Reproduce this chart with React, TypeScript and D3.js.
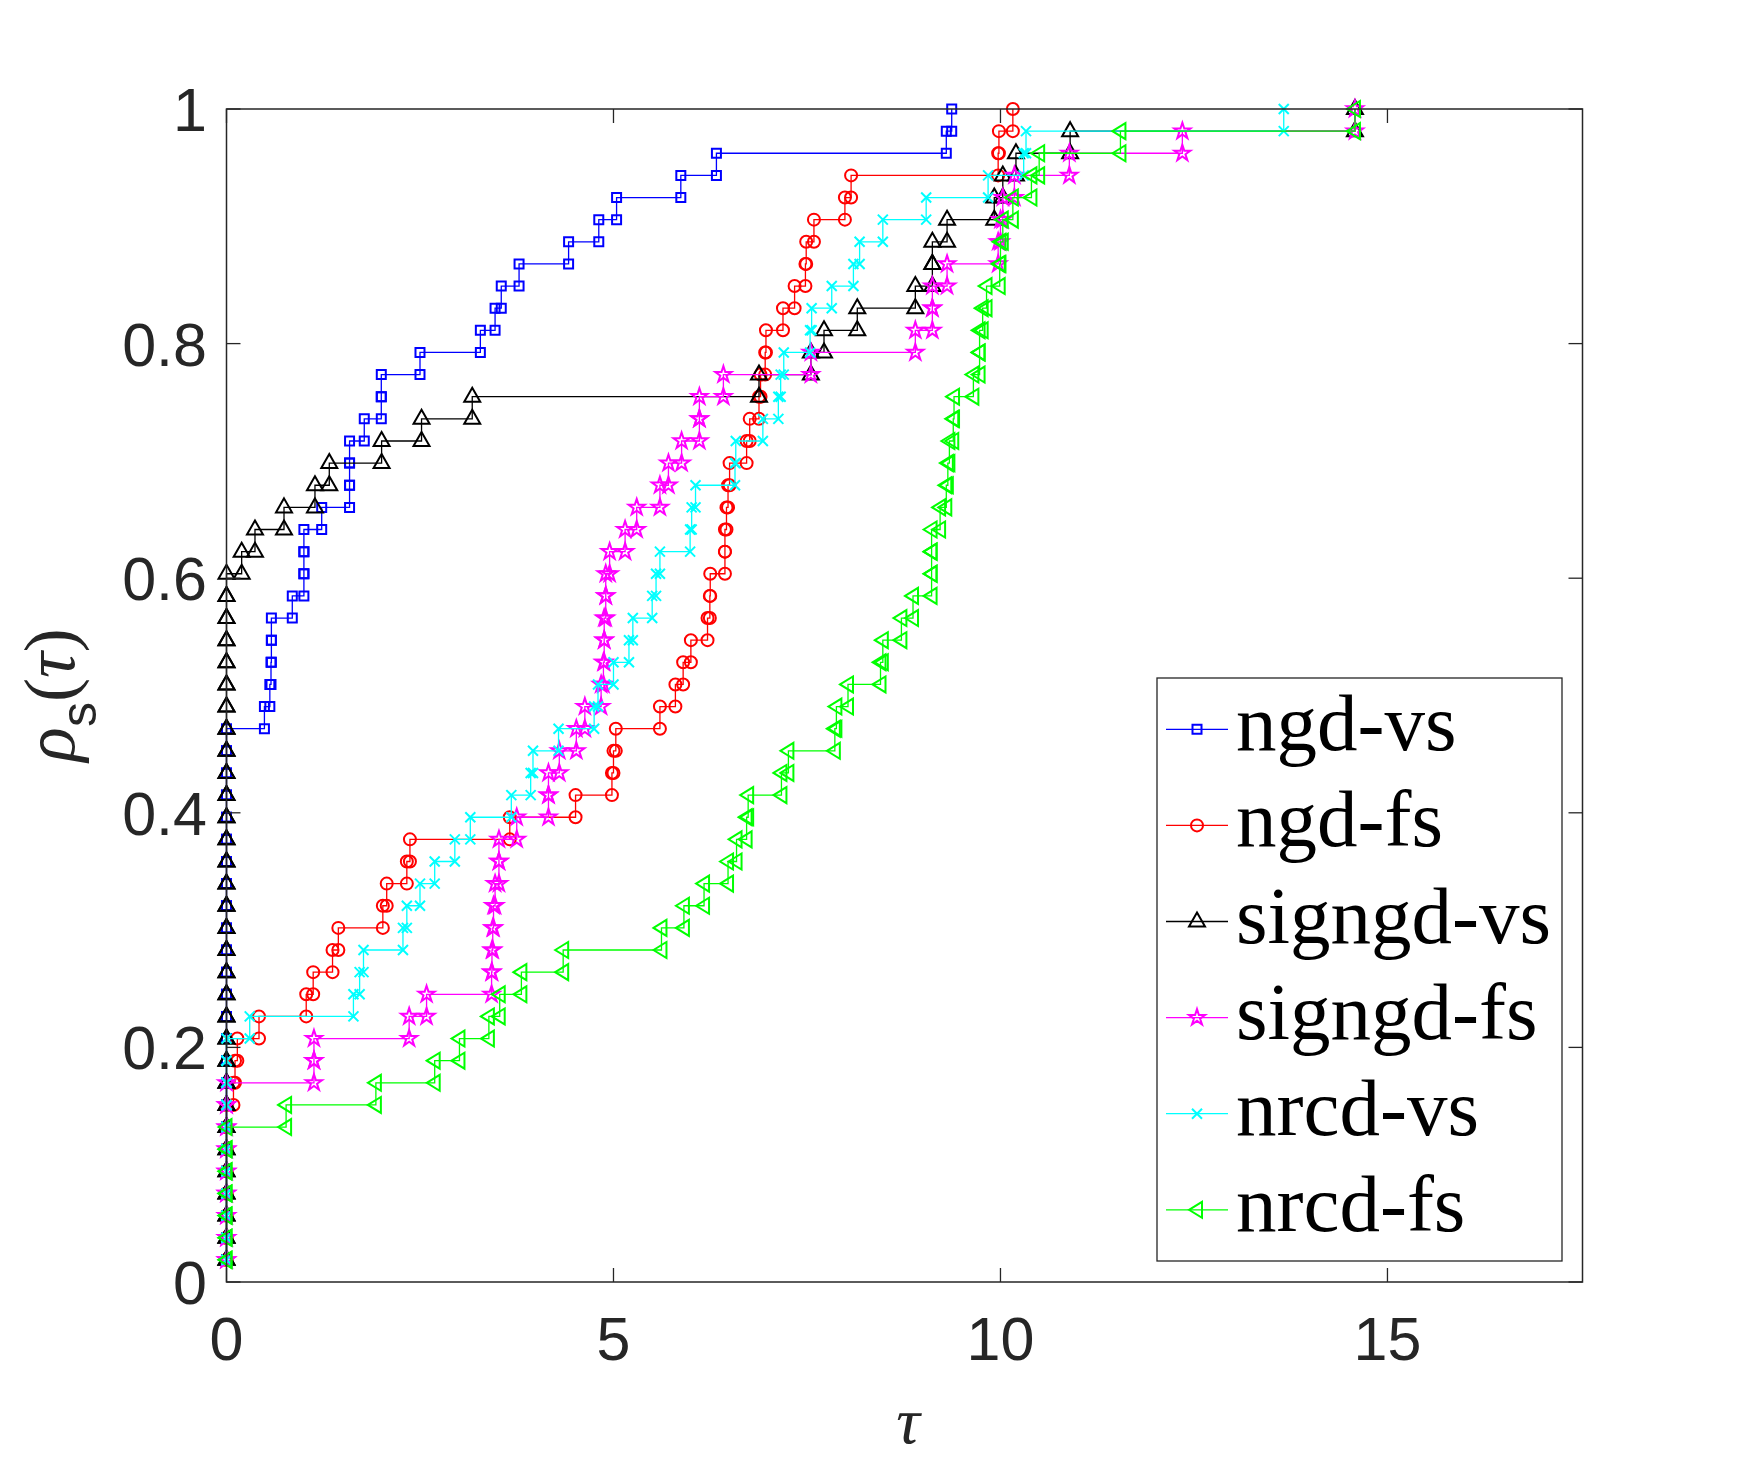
import * as d3 from "d3";

// performance profile: sorted log2 ratios per solver, rho = i / nProblems
const nProblems = 53;
const xMax = 17.52;

const xTicks = [0, 5, 10, 15];
const yTicks = [0, 0.2, 0.4, 0.6, 0.8, 1];
const yTickLabels = ["0", "0.2", "0.4", "0.6", "0.8", "1"];

const seriesNames = ["ngd-vs", "ngd-fs", "signgd-vs", "signgd-fs", "nrcd-vs", "nrcd-fs"];
const seriesColors = ["#0000ff", "#ff0000", "#000000", "#ff00ff", "#00ffff", "#00ff00"];
const seriesMarkers = ["square", "circle", "triUp", "star", "cross", "triLeft"];

const ngdVs = [
  0, 0, 0, 0, 0, 0, 0, 0, 0, 0, 0, 0, 0, 0, 0, 0, 0, 0, 0, 0, 0, 0, 0, 0, 0,
  0.49, 0.56, 0.575, 0.58, 0.58, 0.85, 1.0, 1.0, 1.0, 1.23, 1.59, 1.59, 1.59, 1.78, 2.0,
  2.0, 2.5, 3.28, 3.47, 3.55, 3.78, 4.42, 4.81, 5.04, 5.87, 6.33, 9.3, 9.37,
];

const ngdFs = [
  0, 0, 0, 0, 0, 0, 0, 0,
  0.09, 0.11, 0.14, 0.42, 1.03, 1.12, 1.37, 1.445, 2.02, 2.07, 2.33, 2.37,
  3.66, 4.51, 4.98, 5.0, 5.03, 5.6, 5.8, 5.9, 6.0,
  6.215, 6.245, 6.25, 6.44, 6.44, 6.46, 6.48, 6.5, 6.72, 6.76, 6.88, 6.9, 6.96, 6.97,
  7.19, 7.34, 7.48, 7.49, 7.59, 7.99, 8.07, 9.97, 9.98, 10.16,
];

const signgdVs = [
  0, 0, 0, 0, 0, 0, 0, 0, 0, 0, 0, 0, 0, 0, 0, 0, 0, 0, 0, 0, 0, 0, 0, 0, 0, 0, 0, 0, 0, 0, 0, 0,
  0.196, 0.368, 0.743, 1.143, 1.328, 2.004, 2.52, 3.175, 6.88, 7.55, 7.72, 8.15, 8.9,
  9.12, 9.12, 9.31, 9.92, 10.03, 10.2, 10.9, 14.58,
];

const signgdFs = [
  0, 0, 0, 0, 0, 0, 0, 0, 0,
  1.13, 1.13, 2.36, 2.585, 3.425, 3.43, 3.44, 3.45, 3.47, 3.52, 3.52, 3.75, 4.16, 4.16,
  4.3, 4.52, 4.63, 4.84, 4.87, 4.88, 4.88, 4.9, 4.9, 4.95, 5.15, 5.3, 5.6, 5.71, 5.88,
  6.11, 6.11, 6.42, 7.55, 8.9, 9.12, 9.12, 9.31, 9.97, 10.0, 10.03, 10.18, 10.89, 12.35, 14.58,
];

const nrcdVs = [
  0, 0, 0, 0, 0, 0, 0, 0, 0, 0, 0,
  0.3, 1.64, 1.72, 1.77, 2.28, 2.33, 2.5, 2.69, 2.95, 3.15, 3.68, 3.93, 3.96, 4.29,
  4.75, 4.8, 5.0, 5.2, 5.25, 5.5, 5.55, 5.6, 5.99, 6.01, 6.06, 6.57, 6.58, 6.93, 7.13,
  7.16, 7.2, 7.54, 7.56, 7.82, 8.1, 8.18, 8.48, 9.04, 9.84, 10.3, 10.33, 13.66,
];

const nrcdFs = [
  0, 0, 0, 0, 0, 0, 0,
  0.77, 1.93, 2.69, 3.01, 3.39, 3.53, 3.81, 4.35, 5.62, 5.91, 6.17, 6.48, 6.59, 6.72,
  6.74, 7.17, 7.26, 7.86, 7.88, 8.03, 8.45, 8.48, 8.72, 8.87, 9.11, 9.11, 9.11, 9.22,
  9.3, 9.32, 9.34, 9.39, 9.4, 9.65, 9.73, 9.73, 9.77, 9.82, 9.99, 10.0, 10.03, 10.16,
  10.4, 10.5, 11.55, 14.58,
];

const allSeries = [ngdVs, ngdFs, signgdVs, signgdFs, nrcdVs, nrcdFs];

const starPath = (() => {
  const R = 8.5;
  const r = R * 0.382;
  const pts: string[] = [];
  for (let i = 0; i < 10; i++) {
    const a = -Math.PI / 2 + (i * Math.PI) / 5;
    const rad = i % 2 === 0 ? R : r;
    pts.push(`${(rad * Math.cos(a)).toFixed(2)},${(rad * Math.sin(a)).toFixed(2)}`);
  }
  return "M" + pts.join("L") + "Z";
})();

const markerPaths: Record<string, string> = {
  square: "M-4.5,-4.5H4.5V4.5H-4.5Z",
  circle: "M6,0A6,6 0 1,1 -6,0A6,6 0 1,1 6,0Z",
  triUp: "M0,-9L8,5H-8Z",
  star: starPath,
  cross: "M-5,-5L5,5M-5,5L5,-5",
  triLeft: "M-8,0L5,-8V8Z",
};

function stairs(taus: number[]): [number, number][] {
  const pts: [number, number][] = [];
  taus.forEach((t, i) => {
    const rho = (i + 1) / nProblems;
    pts.push([t, rho]);
    if (i < taus.length - 1) pts.push([taus[i + 1], rho]);
  });
  return pts;
}

export default function App() {
  const width = 1750;
  const height = 1457;
  const left = 226.5;
  const right = 1582.5;
  const top = 109;
  const bottom = 1282;

  const x = d3.scaleLinear().domain([0, xMax]).range([left, right]);
  const y = d3.scaleLinear().domain([0, 1]).range([bottom, top]);
  const line = d3
    .line<[number, number]>()
    .x((d) => x(d[0]))
    .y((d) => y(d[1]));

  const axisColor = "#262626";
  const tickLen = 14;

  const legendX = 1157;
  const legendY = 678;
  const legendW = 405;
  const legendH = 583;
  const rowGap = 96.1;

  return (
    <svg
      width={width}
      height={height}
      style={{ position: "absolute", left: 0, top: 0, background: "#fff" }}
    >
      <rect x={0} y={0} width={width} height={height} fill="#fff" />

      {allSeries.map((taus, s) => {
        const pts = stairs(taus);
        const color = seriesColors[s];
        const mk = seriesMarkers[s];
        return (
          <g key={seriesNames[s]}>
            <path d={line(pts) ?? ""} fill="none" stroke={color} strokeWidth={1.3} />
            {pts.map((p, i) => (
              <path
                key={i}
                d={markerPaths[mk]}
                transform={`translate(${x(p[0])},${y(p[1])})`}
                fill="none"
                stroke={color}
                strokeWidth={2}
                strokeLinejoin="miter"
              />
            ))}
          </g>
        );
      })}

      {/* box */}
      <rect
        x={left}
        y={top}
        width={right - left}
        height={bottom - top}
        fill="none"
        stroke={axisColor}
        strokeWidth={1.5}
      />

      {xTicks.map((t) => (
        <g key={"xt" + t}>
          <line x1={x(t)} x2={x(t)} y1={bottom} y2={bottom - tickLen} stroke={axisColor} strokeWidth={1.3} />
          <line x1={x(t)} x2={x(t)} y1={top} y2={top + tickLen} stroke={axisColor} strokeWidth={1.3} />
          <text
            x={x(t)}
            y={1360}
            textAnchor="middle"
            fontFamily="'Liberation Sans', Arial, sans-serif"
            fontSize={61}
            fill={axisColor}
          >
            {t}
          </text>
        </g>
      ))}

      {yTicks.map((t, i) => (
        <g key={"yt" + t}>
          <line x1={left} x2={left + tickLen} y1={y(t)} y2={y(t)} stroke={axisColor} strokeWidth={1.3} />
          <line x1={right} x2={right - tickLen} y1={y(t)} y2={y(t)} stroke={axisColor} strokeWidth={1.3} />
          <text
            x={207}
            y={y(t) + 22}
            textAnchor="end"
            fontFamily="'Liberation Sans', Arial, sans-serif"
            fontSize={61}
            fill={axisColor}
          >
            {yTickLabels[i]}
          </text>
        </g>
      ))}

      {/* axis labels */}
      <text
        x={908}
        y={1443}
        textAnchor="middle"
        fontFamily="'Liberation Serif', serif"
        fontStyle="italic"
        fontSize={66}
        fill={axisColor}
      >
        τ
      </text>
      <text
        transform="translate(74,695) rotate(-90)"
        textAnchor="middle"
        fontFamily="'Liberation Serif', serif"
        fontSize={72}
        fill={axisColor}
      >
        <tspan fontStyle="italic">ρ</tspan>
        <tspan fontFamily="'Liberation Sans', Arial, sans-serif" fontSize={50} dy={22}>
          s
        </tspan>
        <tspan dy={-22}>(</tspan>
        <tspan fontStyle="italic">τ</tspan>
        <tspan>)</tspan>
      </text>

      {/* legend */}
      <rect
        x={legendX}
        y={legendY}
        width={legendW}
        height={legendH}
        fill="#fff"
        stroke={axisColor}
        strokeWidth={1.3}
      />
      {seriesNames.map((name, s) => {
        const cy = 729.3 + s * rowGap;
        return (
          <g key={"lg" + name}>
            <line x1={1166} x2={1228} y1={cy} y2={cy} stroke={seriesColors[s]} strokeWidth={1.3} />
            <path
              d={markerPaths[seriesMarkers[s]]}
              transform={`translate(1197,${cy})`}
              fill="none"
              stroke={seriesColors[s]}
              strokeWidth={2}
            />
            <text
              x={1236}
              y={cy + 21}
              fontFamily="'Liberation Serif', 'Times New Roman', serif"
              fontSize={81}
              fill="#000"
            >
              {name}
            </text>
          </g>
        );
      })}
    </svg>
  );
}
